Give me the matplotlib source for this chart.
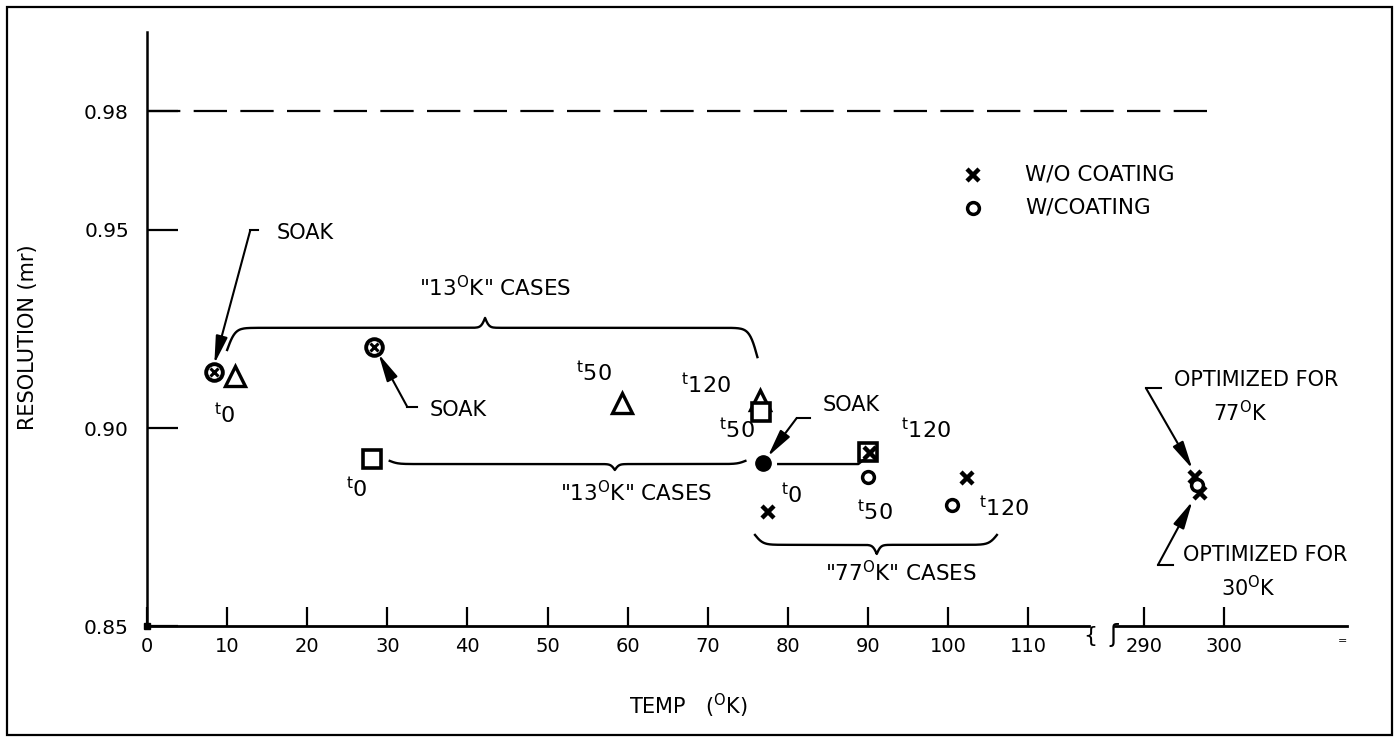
import numpy as np
import matplotlib.pyplot as plt
from matplotlib.patches import Rectangle

plt.rcParams['font.family'] = ['DejaVu Sans']
plt.rcParams['mathtext.default'] = 'regular'

# temperatures past the axis break (290-300 K) are drawn shifted left by this
BREAK_SHIFT = 165.5

# "13 K" cases
tri_temp = [11.0, 59.3, 76.5]
tri_res = [0.9131, 0.9062, 0.9071]
sq_temp = [28.1, 76.7, 90.0]
sq_res = [0.8922, 0.9041, 0.8939]
# soak points (circle with cross = both coatings)
soak_temp = [8.3, 28.3]
soak_res = [0.9142, 0.9205]
soak77_temp = [76.9]
soak77_res = [0.8911]
# without / with coating
wo_temp = [77.5, 90.3, 102.4, 296.3, 297.0]
wo_res = [0.8787, 0.8936, 0.8874, 0.8876, 0.8836]
w_temp = [90.0, 100.5, 296.6]
w_res = [0.8876, 0.8806, 0.8856]

ref_level = 0.98
x_ticks = [0, 10, 20, 30, 40, 50, 60, 70, 80, 90, 100, 110, 290, 300]
y_ticks = [0.85, 0.90, 0.95, 0.98]


def tx(t):
    t = np.asarray(t, dtype=float)
    return np.where(t > 200, t - BREAK_SHIFT, t)


def sig(z):
    return 1.0 / (1.0 + np.exp(-z))


# curly brace with ends bent by end_dy and the point bent by cusp_dy
def brace(ax, x0, xm, x1, yf, end_dy, cusp_dy, k_end=2.0, k_cusp=4.0):
    el, er = end_dy if isinstance(end_dy, tuple) else (end_dy, end_dy)
    xl = np.linspace(x0, xm, 200)
    xr = np.linspace(xm, x1, 200)
    yl = yf + el * 2 * (1 - sig(k_end * (xl - x0))) + cusp_dy * 2 * sig(k_cusp * (xl - xm))
    yr = yf + er * 2 * (1 - sig(k_end * (x1 - xr))) + cusp_dy * 2 * sig(k_cusp * (xm - xr))
    ax.plot(np.r_[xl, xr], np.r_[yl, yr], color='k', lw=1.7)


def leader(ax, corner, tip, bar_end):
    ax.plot([corner[0], bar_end], [corner[1], corner[1]], color='k', lw=1.5)
    ax.annotate('', xy=tip, xytext=corner,
                arrowprops=dict(arrowstyle='-|>,head_length=1.4,head_width=0.3',
                                color='k', lw=1.5, mutation_scale=12,
                                shrinkA=0, shrinkB=0))


fig = plt.figure(figsize=(13.99, 7.42), dpi=100)
ax = fig.add_axes([0.1051, 0.1563, 0.8577, 0.8006])
ax.set_xlim(0, 149.8)
ax.set_ylim(0.85, 1.0)

for s in ['top', 'right', 'bottom']:
    ax.spines[s].set_visible(False)
ax.spines['left'].set_linewidth(1.8)

# broken x axis line
ax.plot([0, 117.6], [0.85, 0.85], color='k', lw=2.0, clip_on=False)
ax.plot([120.8, 149.8], [0.85, 0.85], color='k', lw=2.0, clip_on=False)
ax.text(117.8, 0.8474, '{', fontsize=16, ha='center', va='center')
ax.text(120.7, 0.8478, 'ʃ', fontsize=18, ha='center', va='center')
ax.text(149.3, 0.8462, '=', fontsize=8, ha='center', va='center')
ax.plot(0, 0.85, 's', color='k', ms=5, clip_on=False)

ax.set_xticks(tx(x_ticks))
ax.set_xticklabels([str(t) for t in x_ticks])
ax.set_yticks(y_ticks)
ax.set_yticklabels(['%.2f' % v for v in y_ticks])
ax.tick_params(axis='x', direction='in', length=14, width=1.6, pad=8, labelsize=14)
ax.tick_params(axis='y', direction='in', length=22, width=1.6, pad=13, labelsize=14.5)

ax.set_xlabel('TEMP   ($^{O}$K)', fontsize=15)
ax.xaxis.set_label_coords(0.451, -0.11)
ax.set_ylabel('RESOLUTION (mr)', fontsize=15)
ax.yaxis.set_label_coords(-0.091, 0.487)

# reference level
ax.plot([0, tx(300)[()] - 0.5], [ref_level, ref_level], color='k', lw=1.6,
        dashes=(15, 6))

# markers
ax.plot(tri_temp, tri_res, '^', ms=15, mfc='white', mec='k', mew=2.4, ls='none')
ax.plot(sq_temp, sq_res, 's', ms=13.5, mfc='white', mec='k', mew=2.6, ls='none')
ax.plot(soak_temp, soak_res, 'o', ms=12, mfc='white', mec='k', mew=2.8, ls='none')
ax.plot(soak_temp, soak_res, 'x', ms=6, mec='k', mew=2.2, ls='none')
ax.plot(soak77_temp, soak77_res, 'o', ms=11, color='k', ls='none')
ax.plot(tx(wo_temp), wo_res, 'x', ms=9, mec='k', mew=3.2, ls='none')
ax.plot(tx(w_temp), w_res, 'o', ms=8.5, mfc='white', mec='k', mew=2.5, ls='none')

# time tags
tags = [(9.7, 0.9033, '0'), (26.2, 0.8848, '0'), (55.8, 0.9141, '50'),
        (69.8, 0.9111, '120'), (73.7, 0.8995, '50'), (80.5, 0.8831, '0'),
        (90.9, 0.8790, '50'), (107.0, 0.8798, '120'), (97.3, 0.8995, '120')]
for x, y, n in tags:
    ax.text(x, y, '$^{t}$' + n, fontsize=16, ha='center', va='center')

# braces and connecting lines
brace(ax, 10.0, 42.2, 76.2, 0.9253, (-0.0056, -0.0074), 0.0025)
brace(ax, 30.3, 58.4, 74.7, 0.8909, 0.0008, -0.0015)
ax.plot([78.8, 88.8, 89.6], [0.8909, 0.8909, 0.8922], color='k', lw=1.7)
brace(ax, 75.9, 91.1, 106.1, 0.8705, 0.0025, -0.0023)

ax.text(43.4, 0.9354, '"13$^{O}$K" CASES', fontsize=15.5, ha='center', va='center')
ax.text(61.0, 0.8838, '"13$^{O}$K" CASES', fontsize=15.5, ha='center', va='center')
ax.text(94.1, 0.8634, '"77$^{O}$K" CASES', fontsize=15.5, ha='center', va='center')

# soak call-outs
leader(ax, (12.9, 0.9500), (8.4, 0.9162), 13.9)
ax.text(16.2, 0.9492, 'SOAK', fontsize=15, va='center')
leader(ax, (32.5, 0.9053), (28.9, 0.9187), 33.7)
ax.text(35.3, 0.9045, 'SOAK', fontsize=15, va='center')
leader(ax, (81.1, 0.9025), (77.5, 0.8928), 82.8)
ax.text(84.4, 0.9058, 'SOAK', fontsize=15, va='center')

# optimized call-outs
leader(ax, (124.7, 0.9101), (130.5, 0.8897), 126.6)
ax.text(128.2, 0.9121, 'OPTIMIZED FOR', fontsize=15, va='center')
ax.text(136.5, 0.9040, '77$^{O}$K', fontsize=15, ha='center', va='center')
leader(ax, (126.2, 0.8654), (130.5, 0.8815), 128.1)
ax.text(129.3, 0.8679, 'OPTIMIZED FOR', fontsize=15, va='center')
ax.text(137.5, 0.8598, '30$^{O}$K', fontsize=15, ha='center', va='center')

# key
ax.plot(103.1, 0.9639, 'x', ms=9, mec='k', mew=3.2, clip_on=False)
ax.text(109.6, 0.9639, 'W/O COATING', fontsize=15.5, va='center')
ax.plot(103.1, 0.9556, 'o', ms=8.5, mfc='white', mec='k', mew=2.5, clip_on=False)
ax.text(109.6, 0.9556, 'W/COATING', fontsize=15.5, va='center')

fig.add_artist(Rectangle((0.005, 0.009), 0.990, 0.982, transform=fig.transFigure,
                         fill=False, lw=1.6, ec='k'))

fig.savefig('out.png', dpi=100)
